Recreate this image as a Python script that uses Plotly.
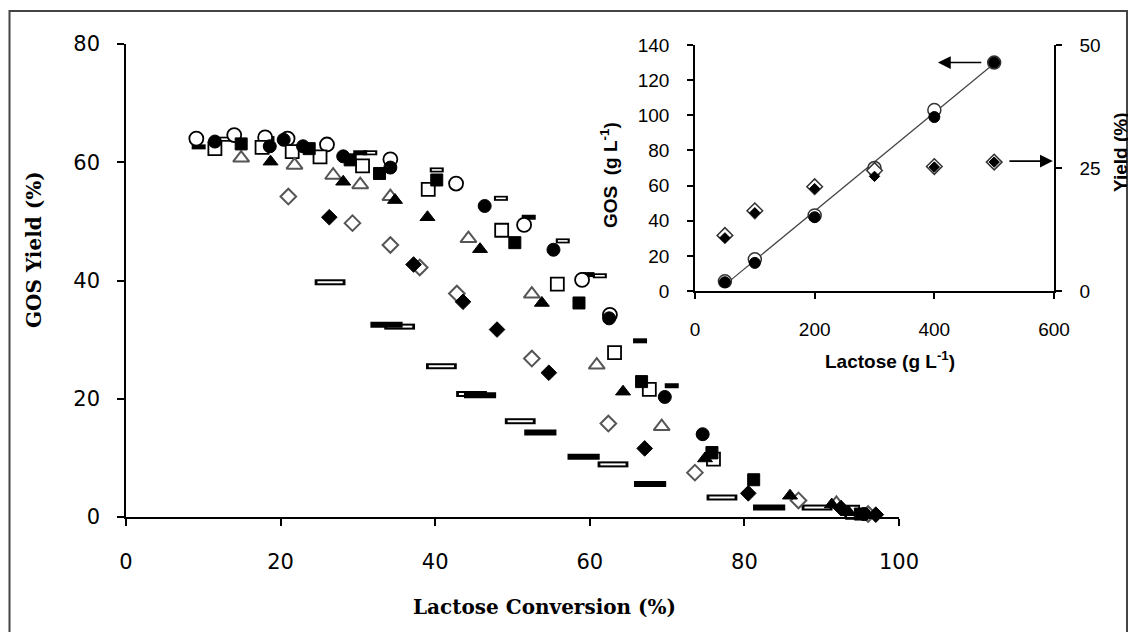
import plotly.graph_objects as go

W, H = 1128, 632

# ---------------- main plot data (Lactose conversion %, GOS yield %) ----------------
oc_x = [9.1, 14.0, 18.0, 20.9, 26.0, 34.2, 42.7, 51.5, 59.0, 62.6]
oc_y = [64.0, 64.6, 64.2, 64.0, 63.0, 60.5, 56.4, 49.4, 40.1, 34.2]

fc_x = [11.5, 18.6, 20.4, 22.9, 28.1, 34.2, 46.4, 55.3, 62.5, 69.7, 74.6, 95.5]
fc_y = [63.5, 62.7, 63.8, 62.7, 61.0, 59.1, 52.6, 45.2, 33.6, 20.3, 14.0, 0.5]

os_x = [11.5, 17.6, 21.5, 25.1, 30.6, 39.1, 48.6, 55.8, 63.2, 67.7, 76.0, 94.0]
os_y = [62.3, 62.5, 61.8, 60.9, 59.4, 55.4, 48.5, 39.4, 27.8, 21.6, 9.8, 0.8]

fs_x = [14.9, 23.7, 29.0, 32.8, 40.2, 50.3, 58.6, 66.7, 75.8, 81.2, 95.0]
fs_y = [63.1, 62.3, 60.4, 58.1, 57.0, 46.4, 36.2, 22.9, 10.9, 6.3, 0.5]

ot_x = [14.9, 21.8, 26.8, 30.3, 34.2, 44.3, 52.5, 60.9, 69.3, 75.5, 91.9]
ot_y = [60.7, 59.5, 57.8, 56.2, 54.2, 47.1, 37.7, 25.7, 15.3, 10.5, 2.3]

ft_x = [18.7, 28.1, 34.8, 39.0, 45.8, 53.8, 64.3, 74.9, 85.9, 91.3, 93.5]
ft_y = [60.1, 56.7, 53.6, 50.7, 45.3, 36.2, 21.2, 9.9, 3.6, 2.1, 0.8]

od_x = [21.0, 29.3, 34.2, 38.0, 42.8, 52.5, 62.4, 73.6, 87.0, 96.0]
od_y = [54.2, 49.7, 46.0, 42.2, 37.8, 26.8, 15.8, 7.5, 2.8, 0.5]

fd_x = [26.3, 37.2, 43.6, 48.0, 54.7, 67.1, 80.5, 92.5, 97.0]
fd_y = [50.7, 42.7, 36.4, 31.7, 24.4, 11.6, 4.0, 1.5, 0.4]

orw_x = [26.4, 35.4, 40.8, 44.7, 51.0, 63.0, 77.1, 89.4]
orw_y = [39.7, 32.2, 25.5, 20.8, 16.2, 8.9, 3.3, 1.6]

frw_x = [33.7, 45.8, 53.6, 59.2, 67.8, 83.2, 95.0]
frw_y = [32.5, 20.6, 14.3, 10.2, 5.6, 1.6, 0.4]

osr_x = [12.8, 18.3, 31.6, 40.2, 48.5, 56.5, 61.3]
osr_y = [63.9, 64.0, 61.6, 58.7, 53.9, 46.7, 40.8]

fsr_x = [9.4, 30.3, 52.1, 59.7, 66.5, 70.6]
fsr_y = [62.6, 61.6, 50.7, 41.0, 29.8, 22.2]

main_xticks = [0, 20, 40, 60, 80, 100]
main_yticks = [0, 20, 40, 60, 80]

# ---------------- inset data (Lactose g/L vs GOS g/L and yield %) ----------------
ins_lac = [50, 100, 200, 300, 400, 500]
gos_open = [5.5, 18, 43, 70, 103, 130]
gos_fill = [5, 16, 42, 68, 99, 130]
yld_open = [11.3, 16.3, 21.2, 24.5, 25.3, 26.2]
yld_fill = [10.8, 15.9, 20.8, 23.3, 25.2, 26.2]
fit_x = [50, 500]
fit_y = [3.5, 129.5]

ins_xticks = [0, 200, 400, 600]
ins_yticks = [0, 20, 40, 60, 80, 100, 120, 140]
ins_y2ticks = [0, 25, 50]

BLK = "#000000"
GRY = "#555555"

fig = go.Figure()


def add(x, y, symbol, size, fill, lcol, lw, xa="x", ya="y"):
    fig.add_trace(go.Scatter(
        x=x, y=y, mode="markers", xaxis=xa, yaxis=ya, cliponaxis=False,
        hoverinfo="skip",
        marker=dict(symbol=symbol, size=size, color=fill,
                    line=dict(color=lcol, width=lw))))


# wide rectangles (open) and dashes (filled)
add(orw_x, orw_y, "line-ew", 22, BLK, BLK, 6)
add(orw_x, orw_y, "line-ew", 18, "white", "white", 2)
add(frw_x, frw_y, "line-ew", 23, BLK, BLK, 6)
# small rectangles
add(osr_x, osr_y, "line-ew", 10, BLK, BLK, 5)
add(osr_x, osr_y, "line-ew", 7, "white", "white", 1.6)
add(fsr_x, fsr_y, "line-ew", 10, BLK, BLK, 5)
# open markers
add(oc_x, oc_y, "circle", 14, "white", BLK, 1.8)
add(os_x, os_y, "square", 13, "white", BLK, 1.8)
add(ot_x, ot_y, "triangle-up", 14, "white", GRY, 2)
add(od_x, od_y, "diamond", 12, "white", GRY, 2)
# filled markers
add(fc_x, fc_y, "circle", 13, BLK, BLK, 1)
add(fs_x, fs_y, "square", 12, BLK, BLK, 1)
add(ft_x, ft_y, "triangle-up", 13, BLK, BLK, 1)
add(fd_x, fd_y, "diamond", 12, BLK, BLK, 1)

# inset
fig.add_trace(go.Scatter(x=fit_x, y=fit_y, mode="lines", xaxis="x2", yaxis="y2",
                         line=dict(color="#444444", width=1.2), hoverinfo="skip"))
add(ins_lac, gos_open, "circle", 13, "white", "#333333", 1.5, "x2", "y2")
add(ins_lac, gos_fill, "circle", 11, BLK, BLK, 1, "x2", "y2")
add(ins_lac, yld_open, "diamond", 12, "white", "#333333", 1.5, "x2", "y3")
add(ins_lac, yld_fill, "diamond", 8, BLK, BLK, 1, "x2", "y3")


def px(v):
    return v / W


def py(v):
    return 1 - v / H


tickfont_main = dict(family="DejaVu Sans", size=21, color=BLK)
tickfont_ins = dict(family="Liberation Sans", size=19, color=BLK)

axis_common = dict(showgrid=False, zeroline=False, showline=True, linecolor=BLK,
                   linewidth=1.5, ticks="outside", tickcolor=BLK, tickwidth=1.5,
                   automargin=False)

fig.update_layout(
    template="none",
    width=W, height=H, autosize=False,
    margin=dict(l=0, r=0, t=0, b=0, pad=0),
    paper_bgcolor="white", plot_bgcolor="rgba(0,0,0,0)",
    showlegend=False,
    xaxis=dict(domain=[px(126), px(899)], range=[0, 100], tickvals=main_xticks,
               ticklen=7, tickfont=tickfont_main, ticklabelstandoff=18,
               anchor="y", **axis_common),
    yaxis=dict(domain=[py(517), py(44)], range=[0, 80], tickvals=main_yticks,
               ticklen=7, tickfont=tickfont_main, ticklabelstandoff=13,
               anchor="x", **axis_common),
    xaxis2=dict(domain=[px(695), px(1054)], range=[0, 600], tickvals=ins_xticks,
                ticklen=6, tickfont=tickfont_ins, ticklabelstandoff=14,
                anchor="y2", **axis_common),
    yaxis2=dict(domain=[py(291), py(45)], range=[0, 140], tickvals=ins_yticks,
                ticklen=6, tickfont=tickfont_ins, ticklabelstandoff=14,
                anchor="x2", **axis_common),
    yaxis3=dict(range=[0, 50], tickvals=ins_y2ticks, overlaying="y2", side="right",
                ticklen=6, tickfont=tickfont_ins, ticklabelstandoff=14,
                anchor="x2", **axis_common),
)

ser = dict(family="DejaVu Serif", size=20, color=BLK, weight="bold")
san = dict(family="Liberation Sans", size=19, color=BLK, weight="bold")

annots = [
    dict(text="Lactose Conversion (%)", x=px(544), y=py(607), font=ser),
    dict(text="GOS Yield (%)", x=px(34), y=py(250), font=ser, textangle=-90),
    dict(text="Lactose (g L<sup>-1</sup>)", x=px(890), y=py(360), font=san),
    dict(text="GOS  (g L<sup>-1</sup>)", x=px(609), y=py(175), font=san, textangle=-90),
    dict(text="Yield (%)", x=px(1121), y=py(152), font=san, textangle=-90),
]
for a in annots:
    fig.add_annotation(xref="paper", yref="paper", showarrow=False,
                       xanchor="center", yanchor="middle", **a)

# arrows in inset
fig.add_annotation(xref="x2", yref="y2", axref="x2", ayref="y2", x=406, y=130,
                   ax=481, ay=130, showarrow=True, arrowhead=2, arrowsize=1.6,
                   arrowwidth=1.6, arrowcolor=BLK, text="")
fig.add_annotation(xref="x2", yref="y3", axref="x2", ayref="y3", x=598, y=26.4,
                   ax=523, ay=26.4, showarrow=True, arrowhead=2, arrowsize=1.6,
                   arrowwidth=1.6, arrowcolor=BLK, text="")

# outer frame
fig.add_shape(type="rect", xref="paper", yref="paper", x0=px(9.5), x1=px(1127),
              y0=-0.05, y1=py(11), line=dict(color="#444444", width=2), layer="below")

fig.write_html("out.html")
